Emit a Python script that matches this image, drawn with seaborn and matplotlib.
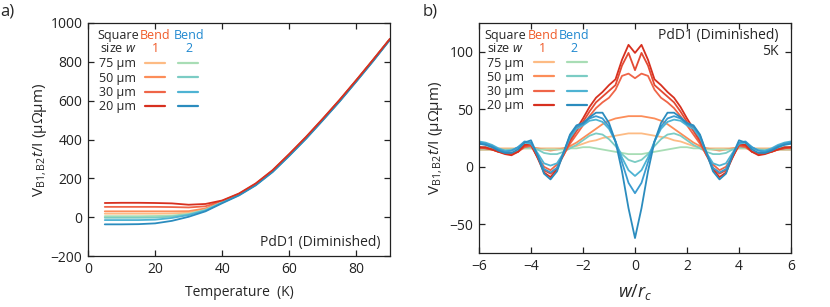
import numpy as np
import pandas as pd
import matplotlib
matplotlib.use("Agg")
import matplotlib.pyplot as plt
from matplotlib.lines import Line2D
import seaborn as sns

sns.set_style("ticks")
plt.rcParams['font.family'] = ['Open Sans', 'DejaVu Sans']
plt.rcParams['mathtext.fontset'] = 'custom'
plt.rcParams['mathtext.rm'] = 'Open Sans'
plt.rcParams['mathtext.it'] = 'Open Sans:italic'
plt.rcParams['mathtext.bf'] = 'Open Sans:bold'

# ---------------- Panel a data ----------------
temperature = [5, 10, 15, 20, 25, 30, 35, 40, 45, 50, 55, 60, 65, 70, 75, 80, 85, 90]
a_bend1_75 = [18, 18, 18, 18, 19, 23, 41, 79, 117, 169, 237, 321, 409, 504, 601, 704, 809, 917]
a_bend1_50 = [30, 30, 30, 30, 30, 31, 45, 81, 118, 170, 238, 322, 410, 505, 602, 705, 810, 918]
a_bend1_30 = [53, 53, 53, 53, 52, 50, 56, 84, 120, 172, 240, 324, 412, 506, 603, 706, 811, 918]
a_bend1_20 = [73, 74, 74, 73, 71, 64, 68, 86, 122, 174, 242, 326, 414, 508, 605, 707, 812, 919]
a_bend2_75 = [5, 5, 5, 6, 8, 17, 38, 77, 116, 168, 236, 320, 408, 503, 600, 703, 808, 916]
a_bend2_50 = [-3, -3, -3, -2, 3, 14, 36, 76, 115, 167, 235, 319, 407, 502, 599, 702, 807, 916]
a_bend2_30 = [-15, -15, -15, -13, -4, 11, 34, 75, 114, 166, 234, 318, 406, 501, 598, 701, 806, 915]
a_bend2_20 = [-37, -37, -36, -32, -19, 2, 30, 72, 112, 164, 232, 316, 404, 499, 596, 699, 804, 914]

# ---------------- Panel b data ----------------
w_rc = [-6.0, -5.75, -5.5, -5.25, -5.0, -4.75, -4.5, -4.25, -4.0, -3.75, -3.5, -3.25,
        -3.0, -2.75, -2.5, -2.25, -2.0, -1.75, -1.5, -1.25, -1.0, -0.75, -0.5, -0.25,
        0.0, 0.25, 0.5, 0.75, 1.0, 1.25, 1.5, 1.75, 2.0, 2.25, 2.5, 2.75,
        3.0, 3.25, 3.5, 3.75, 4.0, 4.25, 4.5, 4.75, 5.0, 5.25, 5.5, 5.75, 6.0]
b_bend1_75 = [15, 15, 15, 16, 16, 16, 16, 16, 16, 16, 16, 16, 16, 16, 17, 18, 20, 22, 23, 25, 26, 27, 28, 29,
              29,
              29, 28, 27, 26, 25, 23, 22, 20, 18, 17, 16, 16, 16, 16, 16, 16, 16, 16, 16, 16, 16, 15, 15, 15]
b_bend1_50 = [15, 15, 15, 15, 15, 15, 16, 17, 17, 16, 15, 14, 15, 16, 18, 21, 25, 29, 33, 37, 40, 42, 43, 44,
              44,
              44, 43, 42, 40, 37, 33, 29, 25, 21, 18, 16, 15, 14, 15, 16, 17, 17, 16, 15, 15, 15, 15, 15, 15]
b_bend1_30 = [16, 16, 15, 13, 12, 12, 13, 17, 18, 9, 0, -3, 2, 10, 20, 28, 36, 44, 51, 56, 60, 67, 79, 81,
              77,
              81, 79, 67, 60, 56, 51, 44, 36, 28, 20, 10, 2, -3, 0, 9, 18, 17, 13, 12, 12, 13, 15, 16, 16]
b_bend1_25 = [17, 16, 15, 13, 12, 11, 13, 18, 19, 8, -3, -6, -1, 10, 22, 31, 39, 48, 56, 61, 66, 71, 88, 99,
              84,
              99, 88, 71, 66, 61, 56, 48, 39, 31, 22, 10, -1, -6, -3, 8, 19, 18, 13, 11, 12, 13, 15, 16, 17]
b_bend1_20 = [17, 17, 15, 13, 11, 10, 13, 19, 20, 8, -5, -9, -2, 12, 24, 33, 42, 52, 60, 65, 71, 76, 93, 106,
              99,
              106, 93, 76, 71, 65, 60, 52, 42, 33, 24, 12, -2, -9, -5, 8, 20, 19, 13, 10, 11, 13, 15, 17, 17]
b_bend2_75 = [15, 15, 15, 15, 15, 15, 15, 16, 16, 15, 15, 15, 15, 15, 16, 16, 17, 17, 16, 15, 14, 13, 12, 11,
              11,
              11, 12, 13, 14, 15, 16, 17, 17, 16, 16, 15, 15, 15, 15, 15, 16, 16, 15, 15, 15, 15, 15, 15, 15]
b_bend2_50 = [17, 17, 16, 15, 14, 15, 16, 17, 17, 15, 12, 11, 11, 13, 16, 19, 23, 27, 29, 28, 24, 18, 11, 6,
              4,
              6, 11, 18, 24, 28, 29, 27, 23, 19, 16, 13, 11, 11, 12, 15, 17, 17, 16, 15, 14, 15, 16, 17, 17]
b_bend2_30 = [22, 21, 19, 16, 14, 14, 17, 21, 20, 12, 3, 1, 3, 12, 25, 33, 36, 40, 41, 39, 33, 22, 8, -3,
              -8,
              -3, 8, 22, 33, 39, 41, 40, 36, 33, 25, 12, 3, 1, 3, 12, 20, 21, 17, 14, 14, 16, 19, 21, 22]
b_bend2_25 = [21, 20, 18, 15, 13, 14, 17, 22, 21, 10, -2, -5, -1, 12, 27, 35, 37, 42, 44, 42, 35, 22, 4, -14,
              -23,
              -14, 4, 22, 35, 42, 44, 42, 37, 35, 27, 12, -1, -5, -2, 10, 21, 22, 17, 14, 13, 15, 18, 20, 21]
b_bend2_20 = [20, 19, 17, 14, 12, 12, 15, 21, 23, 10, -6, -11, -4, 12, 28, 36, 38, 43, 47, 47, 38, 22, -4, -36,
              -62,
              -36, -4, 22, 38, 47, 47, 43, 38, 36, 28, 12, -4, -11, -6, 10, 23, 21, 15, 12, 12, 14, 17, 19, 20]

sizes = ['75 µm', '50 µm', '30 µm', '20 µm']

# colours
c_b1 = {'75': '#fdbb84', '50': '#fc8d59', '30': '#ef6548', '25': '#e34a33', '20': '#d7301f'}
c_b2 = {'75': '#a8ddb5', '50': '#7bccc4', '30': '#4eb3d3', '25': '#3a9bd0', '20': '#2b8cbe'}
head1 = '#f05a28'
head2 = '#1f88d0'

fig = plt.figure(figsize=(8.30, 3.07), dpi=100)
axa = fig.add_axes([88/830, 51/307, 302/830, 233/307])
axb = fig.add_axes([479/830, 54/307, 312/830, 230/307])

lw = 1.3
series_a = [(a_bend1_75, c_b1['75']), (a_bend1_50, c_b1['50']), (a_bend1_30, c_b1['30']),
            (a_bend2_75, c_b2['75']), (a_bend2_50, c_b2['50']), (a_bend2_30, c_b2['30']),
            (a_bend2_20, c_b2['20']), (a_bend1_20, c_b1['20'])]
for vals, col in series_a:
    sns.lineplot(x=temperature, y=vals, ax=axa, color=col, lw=lw, legend=False)

series_b = [(b_bend1_75, c_b1['75']), (b_bend1_50, c_b1['50']), (b_bend2_75, c_b2['75']),
            (b_bend2_50, c_b2['50']), (b_bend1_30, c_b1['30']), (b_bend1_25, c_b1['25']),
            (b_bend1_20, c_b1['20']), (b_bend2_30, c_b2['30']), (b_bend2_25, c_b2['25']),
            (b_bend2_20, c_b2['20'])]
for vals, col in series_b:
    sns.lineplot(x=w_rc, y=vals, ax=axb, color=col, lw=lw, legend=False)

fs = 10
lfs = 9
for ax in (axa, axb):
    ax.tick_params(direction='in', top=True, right=True, length=4, width=0.9,
                   labelsize=fs, pad=4, colors='#222222')
    for sp in ax.spines.values():
        sp.set_linewidth(0.9)
        sp.set_color('#222222')

axa.set_xlim(0, 90)
axa.set_ylim(-200, 1000)
axa.set_xticks([0, 20, 40, 60, 80])
axa.set_yticks([-200, 0, 200, 400, 600, 800, 1000])
axa.set_xlabel('Temperature  (K)', fontsize=fs, labelpad=6)
ylab = r'V$_{\mathregular{B1,B2}}$$\mathit{t}$/I (µΩµm)'
axa.set_ylabel(ylab, fontsize=fs + 1, labelpad=1)
axa.text(0.967, 0.06, 'PdD1 (Diminished)', transform=axa.transAxes, ha='right',
         va='center', fontsize=fs)

axb.set_xlim(-6, 6)
axb.set_ylim(-75, 125)
axb.set_xticks([-6, -4, -2, 0, 2, 4, 6])
axb.set_yticks([-50, 0, 50, 100])
axb.set_xlabel(r'$\mathit{w/r_c}$', fontsize=13, labelpad=6)
axb.set_ylabel(ylab, fontsize=fs + 1, labelpad=3)
axb.text(0.96, 0.945, 'PdD1 (Diminished)', transform=axb.transAxes, ha='right',
         va='center', fontsize=fs)
axb.text(0.96, 0.875, '5K', transform=axb.transAxes, ha='right', va='center', fontsize=fs)


def add_legend(ax, x0, top):
    h1 = [Line2D([], [], color=c_b1[k], lw=1.6) for k in ['75', '50', '30', '20']]
    h2 = [Line2D([], [], color=c_b2[k], lw=1.6) for k in ['75', '50', '30', '20']]
    leg = ax.legend(handles=h1 + h2, labels=sizes + [''] * 4, ncol=2, markerfirst=False,
                    frameon=False, loc='upper left', bbox_to_anchor=(x0, top),
                    bbox_transform=ax.transAxes, fontsize=lfs, handlelength=1.6,
                    handletextpad=0.76, columnspacing=0.28, labelspacing=0.1,
                    borderpad=0, borderaxespad=0)
    return leg


def add_header(ax, xs, ymid):
    ax.text(xs[0], ymid, 'Square\nsize $\\mathit{w}$', transform=ax.transAxes, ha='center',
            va='center', multialignment='center', fontsize=lfs, linespacing=1.0)
    ax.text(xs[1], ymid, 'Bend\n1', transform=ax.transAxes, ha='center', va='center',
            multialignment='center', fontsize=lfs, color=head1, linespacing=1.0)
    ax.text(xs[2], ymid, 'Bend\n2', transform=ax.transAxes, ha='center', va='center',
            multialignment='center', fontsize=lfs, color=head2, linespacing=1.0)


add_legend(axa, 0.036, 0.852)
add_header(axa, (0.099, 0.222, 0.333), 0.92)

add_legend(axb, 0.026, 0.854)
add_header(axb, (0.083, 0.204, 0.306), 0.919)

fig.text(0.0, 1 - 12/307, 'a)', fontsize=12, ha='left', va='center')
fig.text(423/830, 1 - 12/307, 'b)', fontsize=12, ha='left', va='center')

fig.savefig('out.png', dpi=100)
